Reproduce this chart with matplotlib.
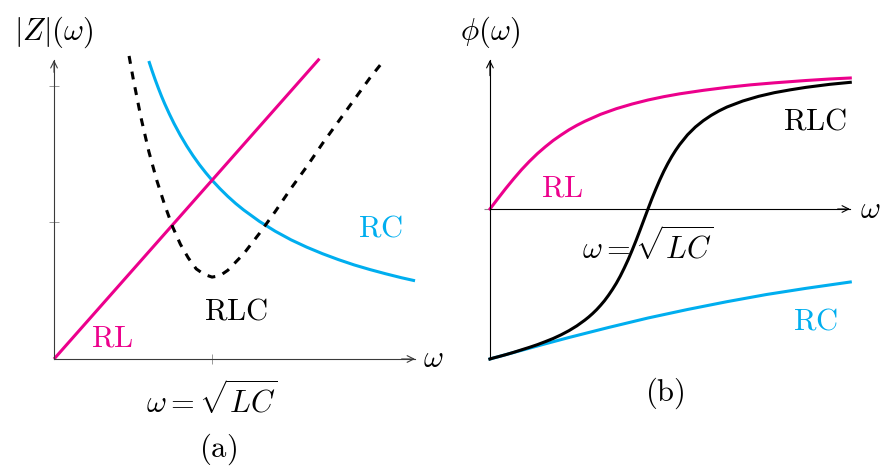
import matplotlib.pyplot as plt

plt.rcParams['mathtext.fontset'] = 'cm'

MAGENTA = '#EC008C'
CYAN = '#00AEEF'

# (a) impedance magnitude |Z| against omega (omega = 1 at resonance)
w_rl_mag = [0.0, 1.68]
z_rl = [0.0, 2.20]

w_rc_mag = [0.60, 0.61, 0.62, 0.64, 0.66, 0.68, 0.70, 0.73, 0.76, 0.80, 0.84,
            0.88, 0.92, 0.96, 1.00, 1.05, 1.10, 1.15, 1.20, 1.30, 1.40, 1.50,
            1.60, 1.70, 1.80, 1.90, 2.00, 2.10, 2.20, 2.285]
z_rc = [2.183, 2.148, 2.113, 2.047, 1.985, 1.926, 1.871, 1.795, 1.724, 1.638,
        1.560, 1.489, 1.424, 1.365, 1.310, 1.248, 1.191, 1.139, 1.092, 1.008,
        0.936, 0.873, 0.819, 0.771, 0.728, 0.689, 0.655, 0.624, 0.595, 0.573]

w_rlc_mag = [0.475, 0.50, 0.55, 0.60, 0.65, 0.70, 0.75, 0.80, 0.85, 0.90, 0.95,
             1.00, 1.05, 1.10, 1.20, 1.30, 1.40, 1.50, 1.60, 1.70, 1.80, 1.90,
             2.00, 2.076]
z_rlc = [2.22, 2.06, 1.77, 1.52, 1.31, 1.13, 0.97, 0.84, 0.74, 0.66, 0.62,
         0.60, 0.61, 0.65, 0.77, 0.92, 1.08, 1.25, 1.41, 1.58, 1.74, 1.90,
         2.06, 2.17]

# (b) phase in degrees against omega
w_rl_ph = [0.0, 0.05, 0.1, 0.15, 0.2, 0.25, 0.3, 0.35, 0.4, 0.45, 0.5, 0.55,
           0.6, 0.7, 0.8, 0.9, 1.0, 1.1, 1.2, 1.35, 1.5, 1.65, 1.8, 2.0, 2.15,
           2.28]
phi_rl = [0.0, 6.2, 12.3, 18.1, 23.6, 28.6, 33.2, 37.3, 41.1, 44.4, 47.5, 50.2,
          52.6, 56.8, 60.2, 63.0, 65.4, 67.4, 69.1, 71.2, 73.0, 74.5, 75.7,
          77.1, 78.0, 78.6]

w_rc_ph = [0.0, 0.1, 0.2, 0.35, 0.5, 0.75, 1.0, 1.25, 1.5, 1.75, 2.0, 2.28]
phi_rc = [-90.0, -87.4, -84.8, -80.9, -77.1, -71.1, -65.4, -60.3, -55.6, -51.3,
          -47.6, -43.8]

w_rlc_ph = [0.0, 0.025, 0.05, 0.1, 0.15, 0.2, 0.25, 0.3, 0.35, 0.4, 0.45, 0.5,
            0.55, 0.6, 0.625, 0.65, 0.675, 0.7, 0.725, 0.75, 0.775, 0.8, 0.825,
            0.85, 0.875, 0.9, 0.925, 0.95, 0.975, 1.0, 1.025, 1.05, 1.075,
            1.1, 1.125, 1.15, 1.175, 1.2, 1.25, 1.3, 1.35, 1.4, 1.45, 1.5,
            1.6, 1.7, 1.8, 1.9, 2.0, 2.15, 2.28]
phi_rlc = [-90.0, -89.3, -88.7, -87.4, -86.0, -84.5, -83.0, -81.4, -79.6,
           -77.7, -75.5, -73.0, -70.1, -66.7, -64.8, -62.7, -60.4, -57.8,
           -55.0, -51.8, -48.3, -44.5, -40.2, -35.4, -30.3, -24.7, -18.8,
           -12.6, -6.3, 0.0, 6.2, 12.0, 17.5, 22.6, 27.2, 31.4, 35.2, 38.6,
           44.5, 49.2, 53.0, 56.2, 58.9, 61.2, 64.8, 67.6, 69.8, 71.5, 73.0,
           74.8, 76.0]

fig = plt.figure(figsize=(8.83, 4.66), dpi=100)
ax_a = fig.add_axes([0, 0, 440 / 883, 1])
ax_b = fig.add_axes([440 / 883, 0, 443 / 883, 1])

for ax in (ax_a, ax_b):
    ax.patch.set_visible(False)
    ax.spines['top'].set_visible(False)
    ax.spines['right'].set_visible(False)
    ax.spines['left'].set_position(('data', 0))
    ax.spines['bottom'].set_position(('data', 0))

def arrow_head(ax, start, end, color):
    ax.annotate('', xy=end, xytext=start,
                arrowprops=dict(arrowstyle='->', color=color, lw=0.8,
                                shrinkA=0, shrinkB=0, mutation_scale=12))

# ---- panel (a) ----
ax_a.set_xlim(-0.342, 2.443)
ax_a.set_ylim(-0.784, 2.630)
axis_a = '#3a3a3a'
ax_a.spines['left'].set_bounds(0, 2.19)
ax_a.spines['bottom'].set_bounds(0, 2.285)
for s in ('left', 'bottom'):
    ax_a.spines[s].set_color(axis_a)
    ax_a.spines[s].set_linewidth(0.8)
ax_a.set_xticks([1])
ax_a.set_yticks([1, 2])
ax_a.tick_params(direction='inout', length=7, width=0.6, color='#888888',
                 labelbottom=False, labelleft=False)
arrow_head(ax_a, (2.2, 0), (2.285, 0), axis_a)
arrow_head(ax_a, (0, 2.1), (0, 2.19), axis_a)

ax_a.plot(w_rc_mag, z_rc, color=CYAN, lw=2.2, solid_capstyle='butt')
ax_a.plot(w_rl_mag, z_rl, color=MAGENTA, lw=2.2, solid_capstyle='butt')
ax_a.plot(w_rlc_mag, z_rlc, color='black', lw=2.2, ls=(0, (2.6, 2.6)))

fs = 22
ax_a.text(0.0, 2.39, r'$|Z|(\omega)$', fontsize=fs, ha='center', va='center')
ax_a.text(2.40, 0.0, r'$\omega$', fontsize=fs, ha='center', va='center')
ax_a.text(0.367, 0.154, r'$\mathrm{RL}$', fontsize=fs, color=MAGENTA,
          ha='center', va='center')
ax_a.text(1.152, 0.352, r'$\mathrm{RLC}$', fontsize=fs, ha='center', va='center')
ax_a.text(2.063, 0.96, r'$\mathrm{RC}$', fontsize=fs, color=CYAN,
          ha='center', va='center')
ax_a.text(1.0, -0.30, r'$\omega = \sqrt{LC}$', fontsize=fs, ha='center',
          va='center')
ax_a.text(1.038, -0.665, r'$\mathrm{(a)}$', fontsize=fs, ha='center',
          va='center')

# ---- panel (b) ----
ax_b.set_xlim(-0.316, 2.487)
ax_b.set_ylim(-154.2, 125.4)
ax_b.spines['left'].set_bounds(-90, 89.4)
ax_b.spines['bottom'].set_bounds(0, 2.278)
for s in ('left', 'bottom'):
    ax_b.spines[s].set_color('black')
    ax_b.spines[s].set_linewidth(0.8)
ax_b.set_xticks([])
ax_b.set_yticks([0])
ax_b.tick_params(direction='out', length=4, width=0.8, color='#888888',
                 labelleft=False)
arrow_head(ax_b, (2.2, 0), (2.278, 0), 'black')
arrow_head(ax_b, (0, 80), (0, 89.4), 'black')

ax_b.plot(w_rc_ph, phi_rc, color=CYAN, lw=2.2)
ax_b.plot(w_rlc_ph, phi_rlc, color='black', lw=2.2)
ax_b.plot(w_rl_ph, phi_rl, color=MAGENTA, lw=2.2)

ax_b.text(0.0, 106.2, r'$\phi(\omega)$', fontsize=fs, ha='center', va='center')
ax_b.text(2.405, 0.0, r'$\omega$', fontsize=fs, ha='center', va='center')
ax_b.text(0.456, 12.6, r'$\mathrm{RL}$', fontsize=fs, color=MAGENTA,
          ha='center', va='center')
ax_b.text(2.057, 52.8, r'$\mathrm{RLC}$', fontsize=fs, ha='center', va='center')
ax_b.text(2.057, -67.2, r'$\mathrm{RC}$', fontsize=fs, color=CYAN,
          ha='center', va='center')
ax_b.text(1.0, -22.0, r'$\omega = \sqrt{LC}$', fontsize=fs, ha='center',
          va='center')
ax_b.text(1.108, -110.4, r'$\mathrm{(b)}$', fontsize=fs, ha='center',
          va='center')

fig.savefig('out.png', dpi=100)
